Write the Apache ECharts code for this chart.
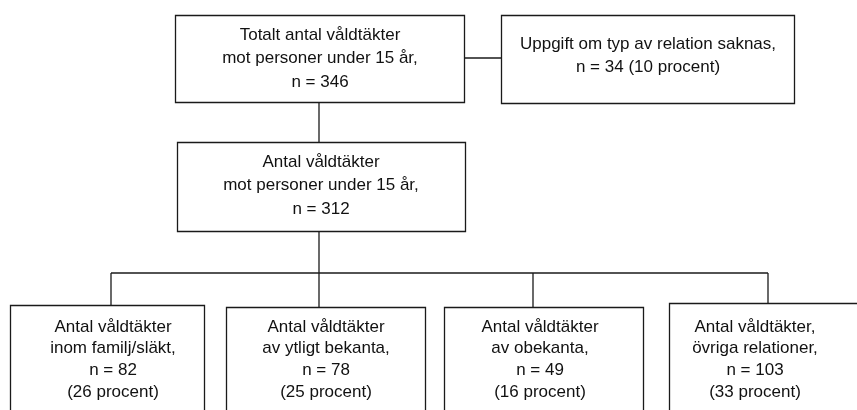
<!DOCTYPE html>
<html><head><meta charset="utf-8">
<script src="https://cdn.jsdelivr.net/npm/echarts@6/dist/echarts.min.js"></script>
<style>html,body{margin:0;padding:0;background:#fff}#c{width:857px;height:410px}</style>
</head><body><div id="c"></div>
<script>
// ---- data ----
const totalLabel = ['Totalt antal våldtäkter', 'mot personer under 15 år,'];
const totalN = 346;
const missingLabel = ['Uppgift om typ av relation saknas,'];
const missingN = 34;
const missingPct = 10;
const knownLabel = ['Antal våldtäkter', 'mot personer under 15 år,'];
const knownN = 312;
const categoryLabels = [
  ['Antal våldtäkter', 'inom familj/släkt,'],
  ['Antal våldtäkter', 'av ytligt bekanta,'],
  ['Antal våldtäkter', 'av obekanta,'],
  ['Antal våldtäkter,', 'övriga relationer,']
];
const categoryN = [82, 78, 49, 103];
const categoryPct = [26, 25, 16, 33];

// ---- texts built from data ----
const boxTexts = [
  totalLabel.concat(['n = ' + totalN]),
  missingLabel.concat(['n = ' + missingN + ' (' + missingPct + ' procent)']),
  knownLabel.concat(['n = ' + knownN])
].concat(categoryLabels.map((l, i) => l.concat(['n = ' + categoryN[i], '(' + categoryPct[i] + ' procent)'])));

// ---- layout (chart space) ----
const boxRects = [
  [175, 15, 464, 102],
  [501, 15, 794, 103],
  [177, 142, 465, 231],
  [10, 305, 204, 430],
  [226, 307, 425, 430],
  [444, 307, 643, 430],
  [669, 303, 880, 430]
];
const textAnchors = [
  [320, 35], [648, 44], [321, 162],
  [113, 327], [326, 327], [540, 327], [755, 327]
];
const connectors = [
  [[464, 58], [501, 58]],
  [[319, 102], [319, 142]],
  [[319, 231], [319, 273]],
  [[111, 273], [768, 273]],
  [[111, 273], [111, 305]],
  [[319, 273], [319, 307]],
  [[533, 273], [533, 307]],
  [[768, 273], [768, 303]]
];

const LINE = '#1a1a1a';
const FONT = '17px "Liberation Sans", Arial, sans-serif';

const chart = echarts.init(document.getElementById('c'), null, {renderer: 'canvas'});
chart.setOption({
  backgroundColor: '#fff',
  animation: false,
  grid: {left: 0, right: 0, top: 0, bottom: 0},
  xAxis: {type: 'value', min: 0, max: 857, show: false},
  yAxis: {type: 'value', min: 0, max: 410, inverse: true, show: false},
  series: [
    {
      type: 'custom',
      coordinateSystem: 'cartesian2d',
      clip: false,
      data: connectors.map((c, i) => [i]),
      renderItem: function (params, api) {
        const c = connectors[api.value(0)];
        const pts = c.map(p => api.coord(p));
        return {
          type: 'polyline',
          shape: {points: pts},
          style: {stroke: LINE, lineWidth: 1.3, fill: null}
        };
      }
    },
    {
      type: 'custom',
      coordinateSystem: 'cartesian2d',
      clip: false,
      data: boxTexts.map((t, i) => [i]),
      renderItem: function (params, api) {
        const i = api.value(0);
        const r = boxRects[i];
        const p0 = api.coord([r[0], r[1]]);
        const p1 = api.coord([r[2], r[3]]);
        const a = api.coord(textAnchors[i]);
        const lines = boxTexts[i];
        const children = [{
          type: 'rect',
          shape: {x: p0[0] + 0.5, y: p0[1] + 0.5, width: p1[0] - p0[0], height: p1[1] - p0[1]},
          style: {stroke: LINE, lineWidth: 1.3, fill: '#fff'}
        }];
        const lh = i < 3 ? 23.5 : 21.7;
        lines.forEach((t, k) => {
          children.push({
            type: 'text',
            style: {
              text: t, x: a[0], y: a[1] + k * lh,
              align: 'center', verticalAlign: 'middle',
              font: FONT, fill: '#111'
            }
          });
        });
        return {type: 'group', children: children};
      }
    }
  ]
});
</script>
</body></html>
